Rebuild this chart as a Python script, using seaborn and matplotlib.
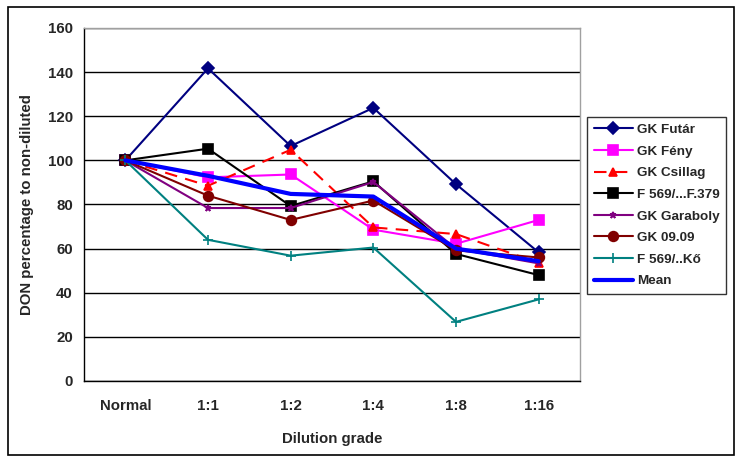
import numpy as np
import pandas as pd
import matplotlib
matplotlib.use('Agg')
import matplotlib.pyplot as plt
import seaborn as sns
from matplotlib.patches import Rectangle

# dados
categorias = ['Normal', '1:1', '1:2', '1:4', '1:8', '1:16']
gk_futar = [100, 141.7, 106.5, 123.8, 89.2, 58.3]
gk_feny = [100, 92.3, 93.6, 68.6, 62.2, 73.0]
gk_csillag = [100, 88.5, 104.8, 69.6, 66.6, 53.5]
f_379 = [100, 105.3, 79.3, 90.5, 57.6, 48.0]
gk_garaboly = [100, 78.4, 78.4, 90.2, 60.0, 53.3]
gk_0909 = [100, 84.0, 73.0, 81.8, 59.2, 56.0]
f_ko = [100, 64.0, 56.8, 60.5, 26.8, 37.0]
media = [100, 93.0, 84.8, 83.6, 60.0, 54.3]

series = [
    ('GK Futár', gk_futar, '#000080', 'D', '-', 1.5, 6),
    ('GK Fény', gk_feny, '#FF00FF', 's', '-', 1.5, 7),
    ('GK Csillag', gk_csillag, '#FF0000', '^', (0, (6, 4)), 1.5, 6),
    ('F 569/...F.379', f_379, '#000000', 's', '-', 1.5, 7),
    ('GK Garaboly', gk_garaboly, '#800080', '*', '-', 1.5, 5),
    ('GK 09.09', gk_0909, '#800000', 'o', '-', 1.5, 7),
    ('F 569/..Kő', f_ko, '#008080', '+', '-', 1.5, 7),
    ('Mean', media, '#0000FF', None, '-', 3, 0),
]

sns.set_style('white')
plt.rcParams['font.family'] = ['Liberation Sans', 'DejaVu Sans']
plt.rcParams['font.weight'] = 'bold'

FS = 10.8

fig = plt.figure(figsize=(7.38, 4.62), dpi=100)
ax = fig.add_axes([84/738, 1-381/462, 496/738, 353/462])

x = np.arange(len(categorias))
for nome, valores, cor, mk, ls, lw, ms in series:
    sns.lineplot(x=x, y=valores, ax=ax, color=cor, marker=mk, linestyle=ls,
                 linewidth=lw, markersize=ms, markeredgecolor=cor,
                 markeredgewidth=1.2, label=nome)

ax.set_xlim(-0.5, 5.5)
ax.set_ylim(0, 160)
ax.set_yticks(range(0, 161, 20))
ax.set_xticks(np.arange(-0.5, 6, 1))
ax.set_xticklabels([])
ax.set_xticks(x, minor=True)
ax.set_xticklabels(categorias, minor=True, fontsize=FS, fontweight='bold')
ax.tick_params(axis='x', which='minor', length=0, pad=13)
ax.tick_params(axis='x', which='major', direction='out', length=5, width=1, color='black')
ax.tick_params(axis='y', direction='inout', length=8, width=1, color='black', labelsize=FS, pad=4)
for lbl in ax.get_yticklabels():
    lbl.set_fontweight('bold')

ax.grid(axis='y', color='black', linewidth=1)
ax.set_axisbelow(True)
for s in ['top', 'right']:
    ax.spines[s].set_color('#A0A0A0')
    ax.spines[s].set_linewidth(1)
for s in ['left', 'bottom']:
    ax.spines[s].set_color('black')
    ax.spines[s].set_linewidth(1)

ax.set_xlabel('Dilution grade', fontsize=FS, fontweight='bold', labelpad=14)
ax.set_ylabel('DON percentage to non-diluted', fontsize=FS, fontweight='bold', labelpad=10)

leg = ax.legend(loc='upper left', bbox_to_anchor=(587/738, 1-117/462),
                bbox_transform=fig.transFigure, frameon=True, fancybox=False,
                handlelength=2.9, handletextpad=0.3, borderpad=0.5, labelspacing=0.68,
                borderaxespad=0, prop={'weight': 'bold', 'size': 9.7})
leg.get_frame().set_edgecolor('black')
leg.get_frame().set_linewidth(1)

fig.patches.append(Rectangle((8/738, 1-455/462), 726/738, 448/462, transform=fig.transFigure,
                             fill=False, edgecolor='black', linewidth=1.2))

plt.savefig('out.png', dpi=100)
plt.close()
